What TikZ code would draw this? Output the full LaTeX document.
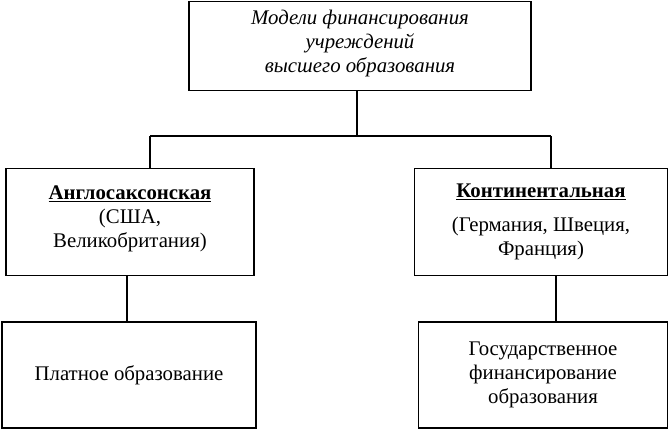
\documentclass[tikz,border=0pt]{standalone}
\usepackage{fontspec}
\setmainfont{Liberation Serif}
\begin{document}
\begin{tikzpicture}[x=1pt,y=-1pt,
  box/.style={draw,line width=1.8pt,rectangle,inner sep=0pt,align=center,
    font=\fontsize{20.8}{24}\selectfont},
  conn/.style={line width=1.8pt}]
\useasboundingbox (0,0) rectangle (669,430);
\node[box,minimum width=342pt,minimum height=89pt] (top) at (360,46)
  {\itshape Модели финансирования\\ \itshape учреждений\\ \itshape высшего образования\\[-14pt]\mbox{}};
\node[box,minimum width=248pt,minimum height=107pt] (l2) at (130,222)
  {\textbf{\underline{Англосаксонская}}\\ (США,\\ Великобритания)\\[-14pt]\mbox{}};
\node[box,minimum width=254pt,minimum height=106pt] (l3) at (129,375)
  {Платное образование};
\node[box,minimum width=253pt,minimum height=107pt] (r2) at (541,222)
  {\textbf{\underline{Континентальная}}\\[10pt] (Германия, Швеция,\\ Франция)};
\node[box,minimum width=249pt,minimum height=106pt] (r3) at (543,375)
  {Государственное\\ финансирование\\ образования};
\coordinate (j) at (357,136);
\coordinate (jl) at (150,136);
\coordinate (jr) at (551,136);
\coordinate (cl) at (127,300);
\coordinate (cr) at (556,300);
\draw[conn] (j |- top.south) -- (j);
\draw[conn] (jl) -- (jr);
\draw[conn] (jl) -- (jl |- l2.north);
\draw[conn] (jr) -- (jr |- r2.north);
\draw[conn] (cl |- l2.south) -- (cl |- l3.north);
\draw[conn] (cr |- r2.south) -- (cr |- r3.north);
\end{tikzpicture}
\end{document}
